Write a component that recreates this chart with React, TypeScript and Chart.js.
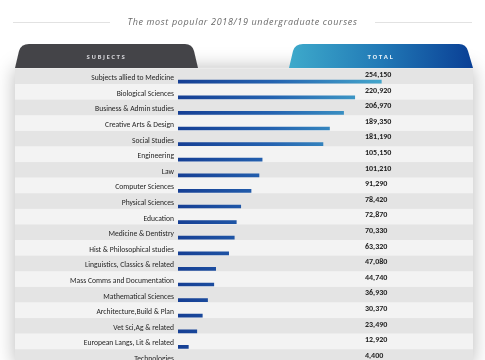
import React, { useEffect, useRef } from "react";
import { Chart, registerables } from "chart.js";

Chart.register(...registerables);

const titleText = "The most popular 2018/19 undergraduate courses";
const headerLeft = "SUBJECTS";
const headerRight = "TOTAL";

const categories = [
  "Subjects allied to Medicine",
  "Biological Sciences",
  "Business & Admin studies",
  "Creative Arts & Design",
  "Social Studies",
  "Engineering",
  "Law",
  "Computer Sciences",
  "Physical Sciences",
  "Education",
  "Medicine & Dentistry",
  "Hist & Philosophical studies",
  "Linguistics, Classics & related",
  "Mass Comms and Documentation",
  "Mathematical Sciences",
  "Architecture,Build & Plan",
  "Vet Sci,Ag & related",
  "European Langs, Lit & related",
  "Technologies",
];

const totals = [
  254150, 220920, 206970, 189350, 181190, 105150, 101210, 91290, 78420, 72870,
  70330, 63320, 47080, 44740, 36930, 30370, 23490, 12920, 4400,
];

const ROW = 15.6;

const stripePlugin = {
  id: "stripes",
  beforeDraw(chart: any) {
    const { ctx } = chart;
    const y = chart.scales.y;
    ctx.save();
    const top = y.getPixelForValue(0) - 13.9;
    const bottom = y.getPixelForValue(categories.length - 1) + 2.4;
    ctx.shadowColor = "rgba(0,0,0,0.28)";
    ctx.shadowBlur = 18;
    ctx.fillStyle = "#f0f0f0";
    ctx.fillRect(15, top, 458, bottom - top);
    ctx.shadowColor = "transparent";
    ctx.shadowBlur = 0;
    categories.forEach((_, i) => {
      const c = y.getPixelForValue(i);
      ctx.fillStyle = i % 2 === 0 ? "#e4e4e4" : "#f3f3f3";
      ctx.fillRect(15, c - 13.2, 458, ROW);
    });
    ctx.restore();
  },
  afterDatasetsDraw(chart: any) {
    const { ctx } = chart;
    const y = chart.scales.y;
    ctx.save();
    ctx.font = "bold 8px Carlito, Lato, sans-serif";
    ctx.fillStyle = "#1e1e1e";
    ctx.textAlign = "left";
    ctx.textBaseline = "middle";
    totals.forEach((v, i) => {
      const c = y.getPixelForValue(i);
      ctx.fillText(v.toLocaleString("en-US"), 365, c - 6.8);
    });
    ctx.restore();
  },
};

function ChartCanvas() {
  const ref = useRef<HTMLCanvasElement | null>(null);
  useEffect(() => {
    if (!ref.current) return;
    const chart = new Chart(ref.current, {
      type: "bar",
      data: {
        labels: categories,
        datasets: [
          {
            data: totals,
            barThickness: 3,
            borderWidth: 0,
            backgroundColor: (ctx: any) => {
              const c = ctx.chart.ctx;
              const g = c.createLinearGradient(178, 0, 385, 0);
              g.addColorStop(0, "#163f94");
              g.addColorStop(0.45, "#2462b0");
              g.addColorStop(1, "#45a8cc");
              return g;
            },
          },
        ],
      },
      options: {
        indexAxis: "y",
        responsive: false,
        animation: false,
        devicePixelRatio: 1,
        layout: { padding: { top: 73.9, bottom: 9.7, left: 0, right: 7 } },
        plugins: {
          legend: { display: false },
          tooltip: { enabled: false },
          title: { display: false },
        },
        scales: {
          x: { display: false, min: 0, max: 375000 },
          y: {
            afterFit(scale: any) {
              scale.width = 178;
            },
            grid: { display: false, drawTicks: false },
            border: { display: false },
            ticks: {
              padding: 4,
              labelOffset: -3.4,
              color: "#1e1e1e",
              font: { family: "Carlito, Lato, sans-serif", size: 7.6 },
            },
          },
        },
      } as any,
      plugins: [stripePlugin],
    });
    return () => chart.destroy();
  }, []);
  return (
    <canvas
      ref={ref}
      width={485}
      height={380}
      style={{ position: "absolute", left: 0, top: 0, width: 485, height: 380 }}
    />
  );
}

export default function App() {
  return (
    <div
      style={{
        position: "relative",
        width: 485,
        height: 360,
        overflow: "hidden",
        background: "#ffffff",
      }}
    >
      <style>{"body{margin:0;}"}</style>
      <ChartCanvas />
      <div style={{ position: "absolute", left: 13, top: 21.5, width: 97, height: 1, background: "#e2e2e2" }} />
      <div style={{ position: "absolute", left: 375, top: 21.5, width: 97, height: 1, background: "#e2e2e2" }} />
      <div
        style={{
          position: "absolute",
          left: 0,
          top: 15,
          width: 485,
          textAlign: "center",
          fontFamily: "'Open Sans', sans-serif",
          fontStyle: "italic",
          fontSize: 9,
          letterSpacing: 0.65,
          color: "#6a6a6a",
          lineHeight: "14px",
        }}
      >
        {titleText}
      </div>
      <svg
        width={485}
        height={70}
        style={{ position: "absolute", left: 0, top: 0 }}
      >
        <defs>
          <linearGradient id="tabBlue" x1="0" y1="0" x2="1" y2="0">
            <stop offset="0" stopColor="#3eaacb" />
            <stop offset="0.5" stopColor="#2179b6" />
            <stop offset="1" stopColor="#0a3f95" />
          </linearGradient>
        </defs>
        <path d="M15,68 L19,51 Q21,44 29,44 L185,44 Q192,44 194,51 L198,68 Z" fill="#444448" />
        <path d="M289,68 L293,51 Q295,44 303,44 L459,44 Q466,44 468,51 L473,68 Z" fill="url(#tabBlue)" />
      </svg>
      <div
        style={{
          position: "absolute",
          left: 15,
          top: 50.5,
          width: 183,
          textAlign: "center",
          fontFamily: "'Open Sans', sans-serif",
          fontWeight: 700,
          fontSize: 6,
          letterSpacing: 1.5,
          color: "#d4d4d8",
          lineHeight: "12px",
        }}
      >
        {headerLeft}
      </div>
      <div
        style={{
          position: "absolute",
          left: 289,
          top: 50.5,
          width: 184,
          textAlign: "center",
          fontFamily: "'Open Sans', sans-serif",
          fontWeight: 700,
          fontSize: 6,
          letterSpacing: 1.5,
          color: "#e8f2f8",
          lineHeight: "12px",
        }}
      >
        {headerRight}
      </div>
    </div>
  );
}
